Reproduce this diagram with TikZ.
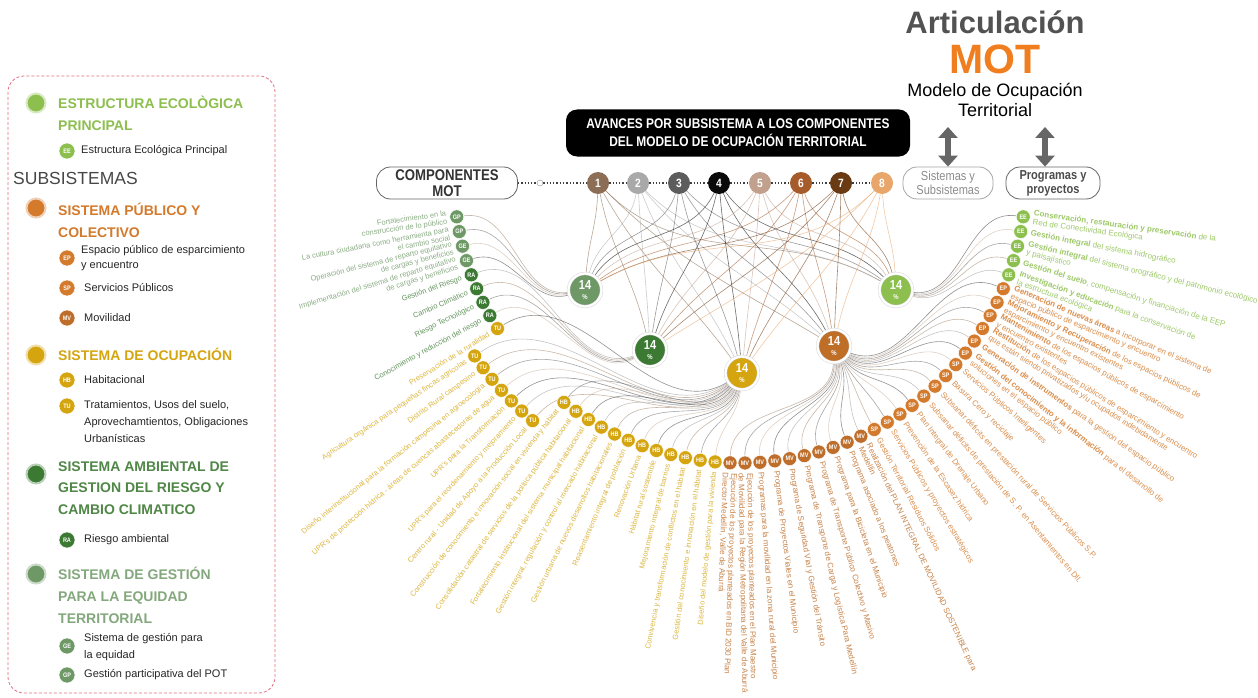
\documentclass[tikz,border=0pt]{standalone}
\usepackage{fontspec}
\setmainfont{Liberation Sans}
\newfontfamily\narrowfont{Liberation Sans}[FakeStretch=0.85]
\usetikzlibrary{arrows.meta}

\definecolor{eegreen}{HTML}{8DBF4E}
\definecolor{eqgreen}{HTML}{6E9966}
\definecolor{ragreen}{HTML}{3C7A33}
\definecolor{ocugold}{HTML}{D5A50F}
\definecolor{puborange}{HTML}{D47A2C}
\definecolor{mvbrown}{HTML}{BE6E2A}
\definecolor{motorange}{HTML}{F07D1E}
\definecolor{legendred}{HTML}{E07080}
\definecolor{numA}{HTML}{8B6E55}
\definecolor{numB}{HTML}{A9A9A9}
\definecolor{numC}{HTML}{5C5C5C}
\definecolor{numD}{HTML}{0A0A0A}
\definecolor{numE}{HTML}{C2A08E}
\definecolor{numF}{HTML}{A65B2B}
\definecolor{numG}{HTML}{6A3A12}
\definecolor{numH}{HTML}{E9A66A}
\definecolor{lk0}{HTML}{9E9E9E}
\definecolor{lk1}{HTML}{A68A72}
\definecolor{lk2}{HTML}{6E6E6E}
\definecolor{lk3}{HTML}{C9B3A0}
\definecolor{lk4}{HTML}{4A4A4A}

\pgfdeclarelayer{bg}
\pgfsetlayers{bg,main}

\tikzset{
  bigdot/.style={circle, fill=#1, draw=#1!35, line width=2pt, minimum size=19pt, inner sep=0pt},
  badge/.style={circle, fill=#1, draw=white, line width=0.5pt, minimum size=14pt, inner sep=0pt,
    text=white, font=\narrowfont\bfseries\fontsize{6.5}{6.5}\selectfont},
  keybadge/.style={badge=#1, minimum size=16pt},
  heading/.style={anchor=west, text=#1, align=left, inner sep=0pt, font=\bfseries\fontsize{14}{22}\selectfont},
  item/.style={anchor=west, align=left, inner sep=0pt, text=black!85, font=\fontsize{11}{15}\selectfont},
  lablft/.style={anchor=east, text=#1, align=right, inner sep=0pt, font=\fontsize{7.5}{8.3}\selectfont},
  labrgt/.style={anchor=west, text=#1, align=left, inner sep=0pt, font=\fontsize{8}{8.8}\selectfont},
  numdot/.style={circle, fill=#1, minimum size=22pt, inner sep=0pt, text=white,
    font=\narrowfont\bfseries\fontsize{12}{12}\selectfont},
  hub/.style={circle, fill=#1, draw=black!15, double=white, double distance=2.2pt, line width=0.5pt,
    minimum size=33pt, inner sep=0pt, text=white, align=center,
    font=\narrowfont\bfseries\fontsize{13}{11}\selectfont},
  pill/.style={draw=black!60, fill=white, rounded corners=14pt, line width=0.8pt, align=center, inner sep=0pt},
  link/.style={line width=0.6pt, draw opacity=0.6},
  fatarrow/.style={line width=6.5pt, draw=black!60, {Triangle[width=19pt,length=11pt]}-{Triangle[width=19pt,length=11pt]}},
}

\begin{document}
\begin{tikzpicture}[x=1pt,y=1pt]
\begin{pgfonlayer}{bg}
  \fill[white] (0,0) rectangle (1258,-698);
\end{pgfonlayer}
\useasboundingbox (0,0) rectangle (1258,-698);

% legend frame
\draw[legendred, dash pattern=on 3pt off 2pt, line width=0.8pt, rounded corners=16pt] (8,-76) rectangle (275,-693);

% legend: estructura ecologica principal
\node[bigdot=eegreen] (dotEE) at (36,-103) {};
\node[heading=eegreen] (headEE) at (58,-113) {ESTRUCTURA ECOLÒGICA\\PRINCIPAL};
\node[keybadge=eegreen] (keyEE) at (67,-151) {EE};
\node[item] (itemEE) at (81,-151) {Estructura Ecológica Principal};
\node[anchor=west, inner sep=0pt, text=black!72, font=\fontsize{17.5}{17.5}\selectfont] (subs) at (13,-178) {SUBSISTEMAS};

% legend: sistema publico y colectivo
\node[bigdot=puborange] (dotPUB) at (36,-208) {};
\node[heading=puborange] (headPUB) at (58,-220) {SISTEMA PÚBLICO Y\\COLECTIVO};
\node[keybadge=puborange] (keyEP) at (67,-258) {EP};
\node[item] (itemEP) at (81,-258) {Espacio público de esparcimiento\\y encuentro};
\node[keybadge=puborange] (keySP) at (67,-288) {SP};
\node[item] (itemSP) at (84,-288) {Servicios Públicos};
\node[keybadge=mvbrown] (keyMV) at (67,-318) {MV};
\node[item] (itemMV) at (84,-318) {Movilidad};

% legend: sistema de ocupacion
\node[bigdot=ocugold] (dotOCU) at (36,-355) {};
\node[heading=ocugold] (headOCU) at (58,-354) {SISTEMA DE OCUPACIÓN};
\node[keybadge=ocugold] (keyHB) at (67,-380) {HB};
\node[item] (itemHB) at (84,-380) {Habitacional};
\node[keybadge=ocugold] (keyTU) at (67,-406) {TU};
\node[item, font=\fontsize{11}{17}\selectfont] (itemTU) at (84,-422) {Tratamientos, Usos del suelo,\\Aprovechamtientos, Obligaciones\\Urbanísticas};

% legend: sistema ambiental
\node[bigdot=ragreen] (dotRA) at (36,-474) {};
\node[heading=ragreen!90!white, font=\bfseries\fontsize{14}{21.5}\selectfont] (headRA) at (58,-488) {SISTEMA AMBIENTAL DE\\GESTION DEL RIESGO Y\\CAMBIO CLIMATICO};
\node[keybadge=ragreen] (keyRA) at (67,-540) {RA};
\node[item] (itemRA) at (84,-540) {Riesgo ambiental};

% legend: sistema de gestion para la equidad
\node[bigdot=eqgreen] (dotEQ) at (36,-574) {};
\node[heading=eqgreen!85!white] (headEQ) at (58,-595) {SISTEMA DE GESTIÓN\\PARA LA EQUIDAD\\TERRITORIAL};
\node[keybadge=eqgreen] (keyGE) at (67,-646) {GE};
\node[item, font=\fontsize{11}{17}\selectfont] (itemGE) at (84,-647) {Sistema de gestión para\\la equidad};
\node[keybadge=eqgreen] (keyGP) at (67,-675) {GP};
\node[item] (itemGP) at (84,-675) {Gestión participativa del POT};

% articulacion MOT
\node[font=\bfseries\fontsize{31}{31}\selectfont, text=black!68] (artic) at (995,-22) {Articulación};
\node[font=\bfseries\fontsize{41}{41}\selectfont, text=motorange] (mot) at (995,-59) {MOT};
\node[font=\fontsize{18}{20}\selectfont, align=center] (model) at (995,-100) {Modelo de Ocupación\\Territorial};
\node[pill, draw=black!35, text=black!45, minimum width=90pt, minimum height=32pt,
  font=\narrowfont\fontsize{13}{14}\selectfont] (sis) at (948,-183) {Sistemas y\\Subsistemas};
\node[pill, text=black!70, minimum width=94pt, minimum height=32pt,
  font=\narrowfont\bfseries\fontsize{13}{14}\selectfont] (prog) at (1053,-183) {Programas y\\proyectos};
\coordinate (upA) at (948,-127);
\coordinate (upB) at (1045,-127);
\draw[fatarrow] (upA) -- (sis);
\draw[fatarrow] (upB) -- (upB |- prog.north);

% title box
\node[fill=black, text=white, rounded corners=11pt, minimum width=344pt, minimum height=47pt, align=center,
  font=\narrowfont\bfseries\fontsize{14}{18}\selectfont] (title) at (738,-133)
  {AVANCES POR SUBSISTEMA A LOS COMPONENTES\\DEL MODELO DE OCUPACIÓN TERRITORIAL};

% componentes MOT
\node[pill, minimum width=141pt, minimum height=32pt, text=black!80,
  font=\narrowfont\bfseries\fontsize{15.5}{16}\selectfont] (comp) at (447,-183) {COMPONENTES\\MOT};
\node[circle, draw=black!45, fill=white, minimum size=6pt, inner sep=0pt] (jn) at (540,-183) {};
\foreach \n/\x/\c in {1/598/numA, 2/638/numB, 3/679/numC, 4/719/numD, 5/760/numE, 6/801/numF, 7/841/numG, 8/882/numH}
  \node[numdot=\c] (c\n) at (\x,-183) {\n};
\begin{pgfonlayer}{bg}
  \draw[dotted, line width=1.3pt, black!75] (comp) -- (jn) -- (c1) -- (c2) -- (c3) -- (c4) -- (c5) -- (c6) -- (c7) -- (c8);
\end{pgfonlayer}

% subsystem hubs
\node[hub=eqgreen] (hubEQ) at (585,-290) {14\\[-1pt]{\fontsize{7}{7}\selectfont\%}};
\node[hub=ragreen] (hubRA) at (650,-350) {14\\[-1pt]{\fontsize{7}{7}\selectfont\%}};
\node[hub=ocugold] (hubHB) at (742,-373) {14\\[-1pt]{\fontsize{7}{7}\selectfont\%}};
\node[hub=puborange!90!black] (hubEP) at (834,-346) {14\\[-1pt]{\fontsize{7}{7}\selectfont\%}};
\node[hub=eegreen] (hubEE) at (896,-290) {14\\[-1pt]{\fontsize{7}{7}\selectfont\%}};

% components to hubs
\begin{pgfonlayer}{bg}
\foreach \n/\x/\c in {1/598/numA, 2/638/numB, 3/679/numC, 4/719/numD, 5/760/numE, 6/801/numF, 7/841/numG, 8/882/numH}
  \foreach \h/\hx in {EQ/585, RA/650, HB/742, EP/834, EE/896} {
    \pgfmathtruncatemacro\o{-90+max(-45,min(45,(\hx-\x)/5))}
    \pgfmathtruncatemacro\e{90+max(-60,min(60,(\hx-\x)/4))}
    \draw[link, draw=\c] (c\n) to[out=\o, in=\e] (hub\h);
  }
\end{pgfonlayer}

\coordinate (ctr) at (740,-177);

% programs read from the rim towards the centre
\foreach \a/\r/\t/\c/\h/\l [count=\i] in {
  -172/286/GP/eqgreen/EQ/{Fortalecimiento en la\\construcción de lo público},
  -169/286/GP/eqgreen/EQ/{La cultura ciudadana como herramienta para\\el cambio social},
  -166/286/GE/eqgreen/EQ/{Operación del sistema de reparto equitativo\\de cargas y beneficios},
  -163/286/GE/eqgreen/EQ/{Implementación del sistema de reparto equitativo\\de cargas y beneficios},
  -160/286/RA/ragreen/RA/{Gestión del Riesgo},
  -157/286/RA/ragreen/RA/{Cambio Climático},
  -154/286/RA/ragreen/RA/{Riesgo Tecnológico},
  -151/286/RA/ragreen/RA/{Conocimiento y reducción del riesgo},
  -148/286/TU/ocugold/HB/{Preservación de la ruralidad},
  -146/320/TU/ocugold/HB/{Agricultura orgánica para pequeñas fincas agrícolas},
  -143.4/320/TU/ocugold/HB/{Distrito Rural campesino},
  -140.8/320/TU/ocugold/HB/{Diseño interinstitucional para la formación campesina en agroecología},
  -138.2/320/TU/ocugold/HB/{UPR's de protección hídrica - áreas de cuencas abastecedoras de agua},
  -135.6/320/TU/ocugold/HB/{UPR's para la Transformación},
  -133/320/TU/ocugold/HB/{UPR's para el reordenamiento y mejoramiento},
  -130.4/320/TU/ocugold/HB/{Centro rural - Unidad de Apoyo a la Producción Local},
  -128/286/HB/ocugold/HB/{Construcción de conocimiento e innovación social en vivienda y hábitat},
  -125/286/HB/ocugold/HB/{Consolidación catastral de servicios de la política pública habitacional},
  -122/286/HB/ocugold/HB/{Fortalecimiento institucional del sistema municipal habitacional},
  -119/286/HB/ocugold/HB/{Gestión integral, regulación y control al mercado habitacional},
  -116/286/HB/ocugold/HB/{Gestión urbana de nuevos desarrollos habitacionales},
  -113/286/HB/ocugold/HB/{Reasentamiento integral de población},
  -110/286/HB/ocugold/HB/{Renovación Urbana},
  -107/286/HB/ocugold/HB/{Hábitat rural sostenible},
  -104/286/HB/ocugold/HB/{Mejoramiento integral de barrios},
  -101/286/HB/ocugold/HB/{Convivencia y transformación de conflictos en el hábitat},
  -98/286/HB/ocugold/HB/{Gestión del conocimiento e innovación en el hábitat},
  -95/286/HB/ocugold/HB/{Diseño del modelo de gestión para la vivienda}}
{
  \pgfmathtruncatemacro\k{mod(\i,5)}
  \pgfmathtruncatemacro\ai{\a}
  \pgfmathtruncatemacro\b{\a+180}
  \path (ctr) ++(\a:\r) node[badge=\c] (L\i) {\t} ++(\a:10) node[lablft=\c!80!white, rotate=\b] (Ll\i) {\l};
  \begin{pgfonlayer}{bg}
    \draw[link, draw=lk\k] (L\i) to[out=\b, in=\ai] (hub\h);
  \end{pgfonlayer}
}

% programs read from the rim outwards
\foreach \a/\t/\c/\h/\l [count=\i] in {
  -92/MV/mvbrown/EP/{Ejecución de los proyectos planteados en BID 2030 Plan\\Director Medellín, Valle de Aburrá},
  -89/MV/mvbrown/EP/{Ejecución de los proyectos planteados en el Plan Maestro\\de Movilidad para la Región Metropolitana del Valle de Aburrá},
  -86/MV/mvbrown/EP/{Programas para la movilidad en la zona rural del Municipio},
  -83/MV/mvbrown/EP/{Programa de Proyectos Viales en el Municipio},
  -80/MV/mvbrown/EP/{Programa de Seguridad Vial y Gestión del Tránsito},
  -77/MV/mvbrown/EP/{Programa de Transporte de Carga y Logística Para Medellín},
  -74/MV/mvbrown/EP/{Programa de Transporte Público Colectivo y Masivo},
  -71/MV/mvbrown/EP/{Programa para la Bicicleta en el Municipio},
  -68/MV/mvbrown/EP/{Programa asociado a los peatones},
  -65/MV/mvbrown/EP/{Realización del PLAN INTEGRAL DE MOVILIDAD SOSTENIBLE para\\Medellín},
  -62/SP/puborange/EP/{Gestión Territorial Residuos Sólidos},
  -59/SP/puborange/EP/{Servicios Públicos y proyectos estratégicos},
  -56/SP/puborange/EP/{Prevención de la Escasez hídrica},
  -53/SP/puborange/EP/{Plan Integral de Drenaje Urbano},
  -50/SP/puborange/EP/{Subsanar déficits de prestación de S. P. en Asentamientos en Dll.},
  -47/SP/puborange/EP/{Subsanar déficits en prestación rural de Servicios Públicos S.P.},
  -44/SP/puborange/EP/{Basura Cero y reciclaje},
  -41/SP/puborange/EP/{Servicios Públicos Inteligentes},
  -38/EP/puborange/EP/{\textbf{Gestión del conocimiento y la información} para el desarrollo de\\soluciones en el espacio público},
  -35/EP/puborange/EP/{\textbf{Generación de instrumentos} para la gestión del espacio público},
  -32/EP/puborange/EP/{\textbf{Restitución} de los espacios públicos de esparcimiento y encuentro\\que están siendo privatizados y/u ocupados indebidamente},
  -29/EP/puborange/EP/{\textbf{Mantenimiento} de los espacios públicos de esparcimiento\\y encuentro existentes},
  -26/EP/puborange/EP/{\textbf{Mejoramiento y Recuperación} de los espacios públicos de\\esparcimiento y encuentro existentes},
  -23/EP/puborange/EP/{\textbf{Generación de nuevas áreas} a incorporar en el sistema de\\espacio público de esparcimiento y encuentro},
  -20/EE/eegreen/EE/{\textbf{Investigación y educación} para la conservación de\\la estructura ecológica},
  -17/EE/eegreen/EE/{\textbf{Gestión del suelo}, compensación y financiación de la EEP},
  -14/EE/eegreen/EE/{\textbf{Gestión integral} del sistema orográfico y del patrimonio ecológico\\y paisajístico},
  -11/EE/eegreen/EE/{\textbf{Gestión integral} del sistema hidrográfico},
  -8/EE/eegreen/EE/{\textbf{Conservación, restauración y preservación} de la\\Red de Conectividad Ecológica}}
{
  \pgfmathtruncatemacro\k{mod(\i,5)}
  \pgfmathtruncatemacro\b{\a+180}
  \path (ctr) ++(\a:286) node[badge=\c] (R\i) {\t} ++(\a:10) node[labrgt=\c!85!white, rotate=\a] (Rl\i) {\l};
  \begin{pgfonlayer}{bg}
    \draw[link, draw=lk\k] (R\i) to[out=\b, in=\a] (hub\h);
  \end{pgfonlayer}
}

\end{tikzpicture}
\end{document}
